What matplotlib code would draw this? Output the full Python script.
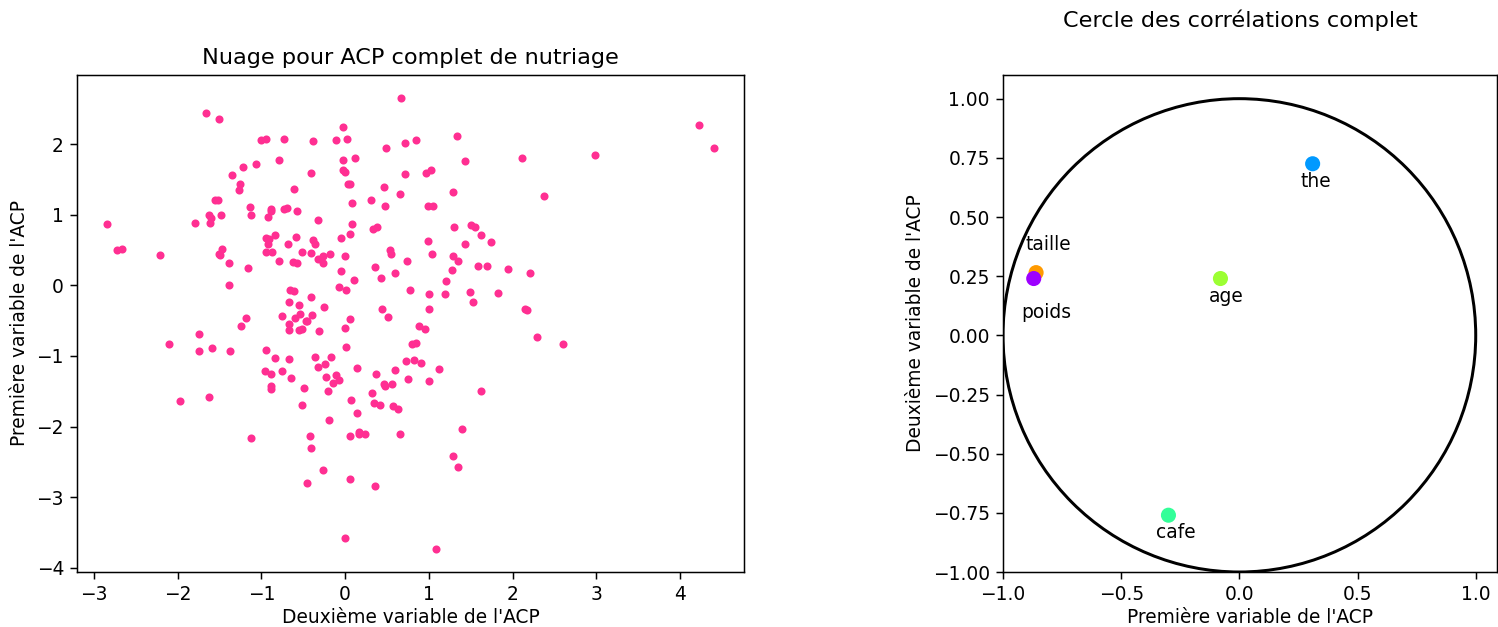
import matplotlib
matplotlib.use('Agg')
import matplotlib.pyplot as plt
from matplotlib.patches import Circle

# individuals projected on the first two components
comp2 = [-1.66, -1.51, -1.00, -0.95, -0.73, -0.79, -1.07, -1.22, -1.35, -1.25,
         -1.27, -0.61, -1.55, -1.52, -1.14, -0.89, -0.88, -0.73, -0.70, -0.57,
         -1.62, -1.60, -1.48, -1.79, -1.61, -1.12, -0.92, -2.84, -0.94, -0.91,
         -0.84, -0.59, -0.68, -0.92, -2.72, -2.67, -2.21, -1.47, -1.51, -1.49,
         -0.94, -0.87, -0.52, -1.39, -1.16, -0.79, -0.62, -0.58, -1.39, -0.66,
         -0.61, -0.67, -0.55, -0.76, -0.54, -0.60, -1.18, -1.24, -0.67, -0.67,
         -0.55, -0.51, -1.74, -2.10, -1.74, -1.59, -1.37, -0.94, -0.84, -0.67,
         -0.96, -0.76, -0.88, -0.65, -0.88, -0.89, -0.49, -1.62, -1.97, -0.51,
         -1.13, 0.67, -0.02, -0.39, -0.11, 0.02, 0.49, 0.72, 0.85, 1.33,
         2.11, -0.03, 0.12, 1.43, -0.41, -0.03, 0.00, 0.72, 0.97, 1.03,
         0.03, 0.06, 0.46, 0.65, 1.29, 0.08, 0.31, 0.47, 0.99, 1.05,
         -0.32, 0.08, 0.33, 0.38, 1.30, 1.50, 1.55, 1.62, 1.74, -0.38,
         -0.36, -0.05, 0.06, 0.99, 1.43, 4.22, 4.40, 2.98, 2.37, -0.41,
         -0.32, -0.26, -0.26, -0.18, 0.00, 0.54, 0.55, 1.04, 0.74, 1.29,
         1.35, 0.36, 0.59, 0.43, 1.27, 1.59, 1.69, 1.94, -0.05, 0.10,
         -0.07, 0.01, -0.41, -0.25, -0.40, -0.46, -0.31, 0.06, 0.00, 0.01,
         0.77, 0.44, 0.51, 1.00, 1.00, 1.19, 1.20, 1.49, 1.53, 1.83,
         2.15, 2.17, 2.21, 0.88, 0.95, 0.80, 0.84, -0.36, -0.17, -0.33,
         -0.24, 0.14, 0.73, 0.82, 0.90, 1.12, 0.59, -0.23, -0.11, -0.07,
         -0.15, -0.21, 0.37, 0.46, 0.48, 0.56, 0.75, 1.00, 1.62, 0.32,
         0.07, 0.34, 0.41, 0.57, 0.63, 2.29, 2.60, 0.14, -0.19, -0.42,
         -0.41, 0.06, 0.17, 0.16, 0.24, 0.66, 1.39, 1.29, 1.35, -0.27,
         0.06, -0.46, 0.36, 0.00, 1.09, -0.47]
comp1 = [2.44, 2.36, 2.06, 2.07, 2.07, 1.78, 1.72, 1.67, 1.56, 1.44,
         1.35, 1.36, 1.21, 1.21, 1.11, 1.08, 1.06, 1.08, 1.10, 1.06,
         1.00, 0.96, 1.00, 0.89, 0.88, 0.99, 0.97, 0.87, 0.67, 0.65,
         0.71, 0.68, 0.58, 0.59, 0.50, 0.51, 0.43, 0.51, 0.45, 0.43,
         0.47, 0.47, 0.47, 0.31, 0.24, 0.34, 0.33, 0.31, 0.01, -0.07,
         -0.08, -0.24, -0.28, -0.43, -0.40, -0.46, -0.46, -0.58, -0.54, -0.63,
         -0.63, -0.62, -0.69, -0.83, -0.93, -0.89, -0.93, -0.91, -1.03, -1.04,
         -1.21, -1.21, -1.26, -1.31, -1.43, -1.47, -1.45, -1.58, -1.64, -1.70,
         -2.16, 2.66, 2.25, 2.04, 2.06, 2.08, 1.95, 2.01, 2.06, 2.12,
         1.81, 1.78, 1.80, 1.76, 1.59, 1.64, 1.60, 1.58, 1.59, 1.63,
         1.44, 1.43, 1.39, 1.29, 1.32, 1.16, 1.21, 1.13, 1.13, 1.13,
         0.93, 0.87, 0.80, 0.82, 0.83, 0.86, 0.83, 0.72, 0.61, 0.64,
         0.59, 0.67, 0.73, 0.63, 0.58, 2.27, 1.95, 1.85, 1.26, 0.46,
         0.38, 0.42, 0.32, 0.45, 0.42, 0.50, 0.44, 0.45, 0.35, 0.41,
         0.34, 0.26, 0.17, 0.11, 0.22, 0.27, 0.27, 0.23, 0.20, 0.08,
         -0.02, -0.07, -0.16, -0.30, -0.42, -0.50, -0.64, -0.47, -0.61, -0.87,
         -0.06, -0.34, -0.45, -0.12, -0.34, -0.12, 0.06, -0.09, -0.23, -0.11,
         -0.34, -0.35, 0.18, -0.58, -0.62, -0.83, -0.81, -1.02, -1.01, -1.15,
         -1.11, -1.17, -1.07, -1.06, -1.10, -1.19, -1.20, -1.30, -1.27, -1.34,
         -1.38, -1.49, -1.25, -1.40, -1.42, -1.39, -1.33, -1.35, -1.49, -1.53,
         -1.62, -1.67, -1.69, -1.71, -1.75, -0.73, -0.83, -1.81, -1.90, -2.14,
         -2.30, -2.13, -2.07, -2.10, -2.10, -2.11, -2.03, -2.41, -2.57, -2.62,
         -2.74, -2.80, -2.84, -3.58, -3.74, -0.50]

# correlations of the variables with the first two components
variables = ['taille', 'poids', 'age', 'cafe', 'the']
corr1 = [-0.86, -0.87, -0.08, -0.30, 0.31]
corr2 = [0.265, 0.24, 0.24, -0.76, 0.725]
var_colors = ['#ff9a00', '#9d00ff', '#9cff33', '#33ff99', '#0099ff']
label_offsets = {'taille': (0.05, 0.12), 'poids': (0.055, -0.145),
                 'age': (0.025, -0.075), 'cafe': (0.03, -0.075),
                 'the': (0.013, -0.075)}

W, H = 1498, 627
DPI = 134.5
fig = plt.figure(figsize=(W / DPI, H / DPI), dpi=DPI)

ax1 = fig.add_axes([77 / W, 55 / H, 667 / W, 497 / H])
ax1.scatter(comp2, comp1, s=11, color='#ff2f92', zorder=2)
ax1.set_xticks(range(-3, 5))
ax1.set_yticks(range(-4, 3))
ax1.set_xlabel("Deuxième variable de l'ACP", labelpad=2)
ax1.set_ylabel("Première variable de l'ACP")
ax1.set_title('Nuage pour ACP complet de nutriage')

ax2 = fig.add_axes([1003 / W, 55 / H, 494 / W, 497 / H])
ax2.add_patch(Circle((0, 0), 1, fill=False, color='black', lw=1.6))
ax2.scatter(corr1, corr2, s=50, c=var_colors, zorder=3)
for name, x, y in zip(variables, corr1, corr2):
    dx, dy = label_offsets[name]
    ax2.text(x + dx, y + dy, name, ha='center', va='center')
ax2.set_xlim(-1, 1.09)
ax2.set_ylim(-1, 1.1)
ax2.set_xticks([-1.0, -0.5, 0.0, 0.5, 1.0])
ax2.set_yticks([-1.0, -0.75, -0.5, -0.25, 0.0, 0.25, 0.5, 0.75, 1.0])
ax2.set_xlabel("Première variable de l'ACP", labelpad=2)
ax2.set_ylabel("Deuxième variable de l'ACP")
ax2.text(0.48, 1.111, 'Cercle des corrélations complet', transform=ax2.transAxes,
         ha='center', va='center', fontsize=12)

fig.savefig('out.png', dpi=DPI)
